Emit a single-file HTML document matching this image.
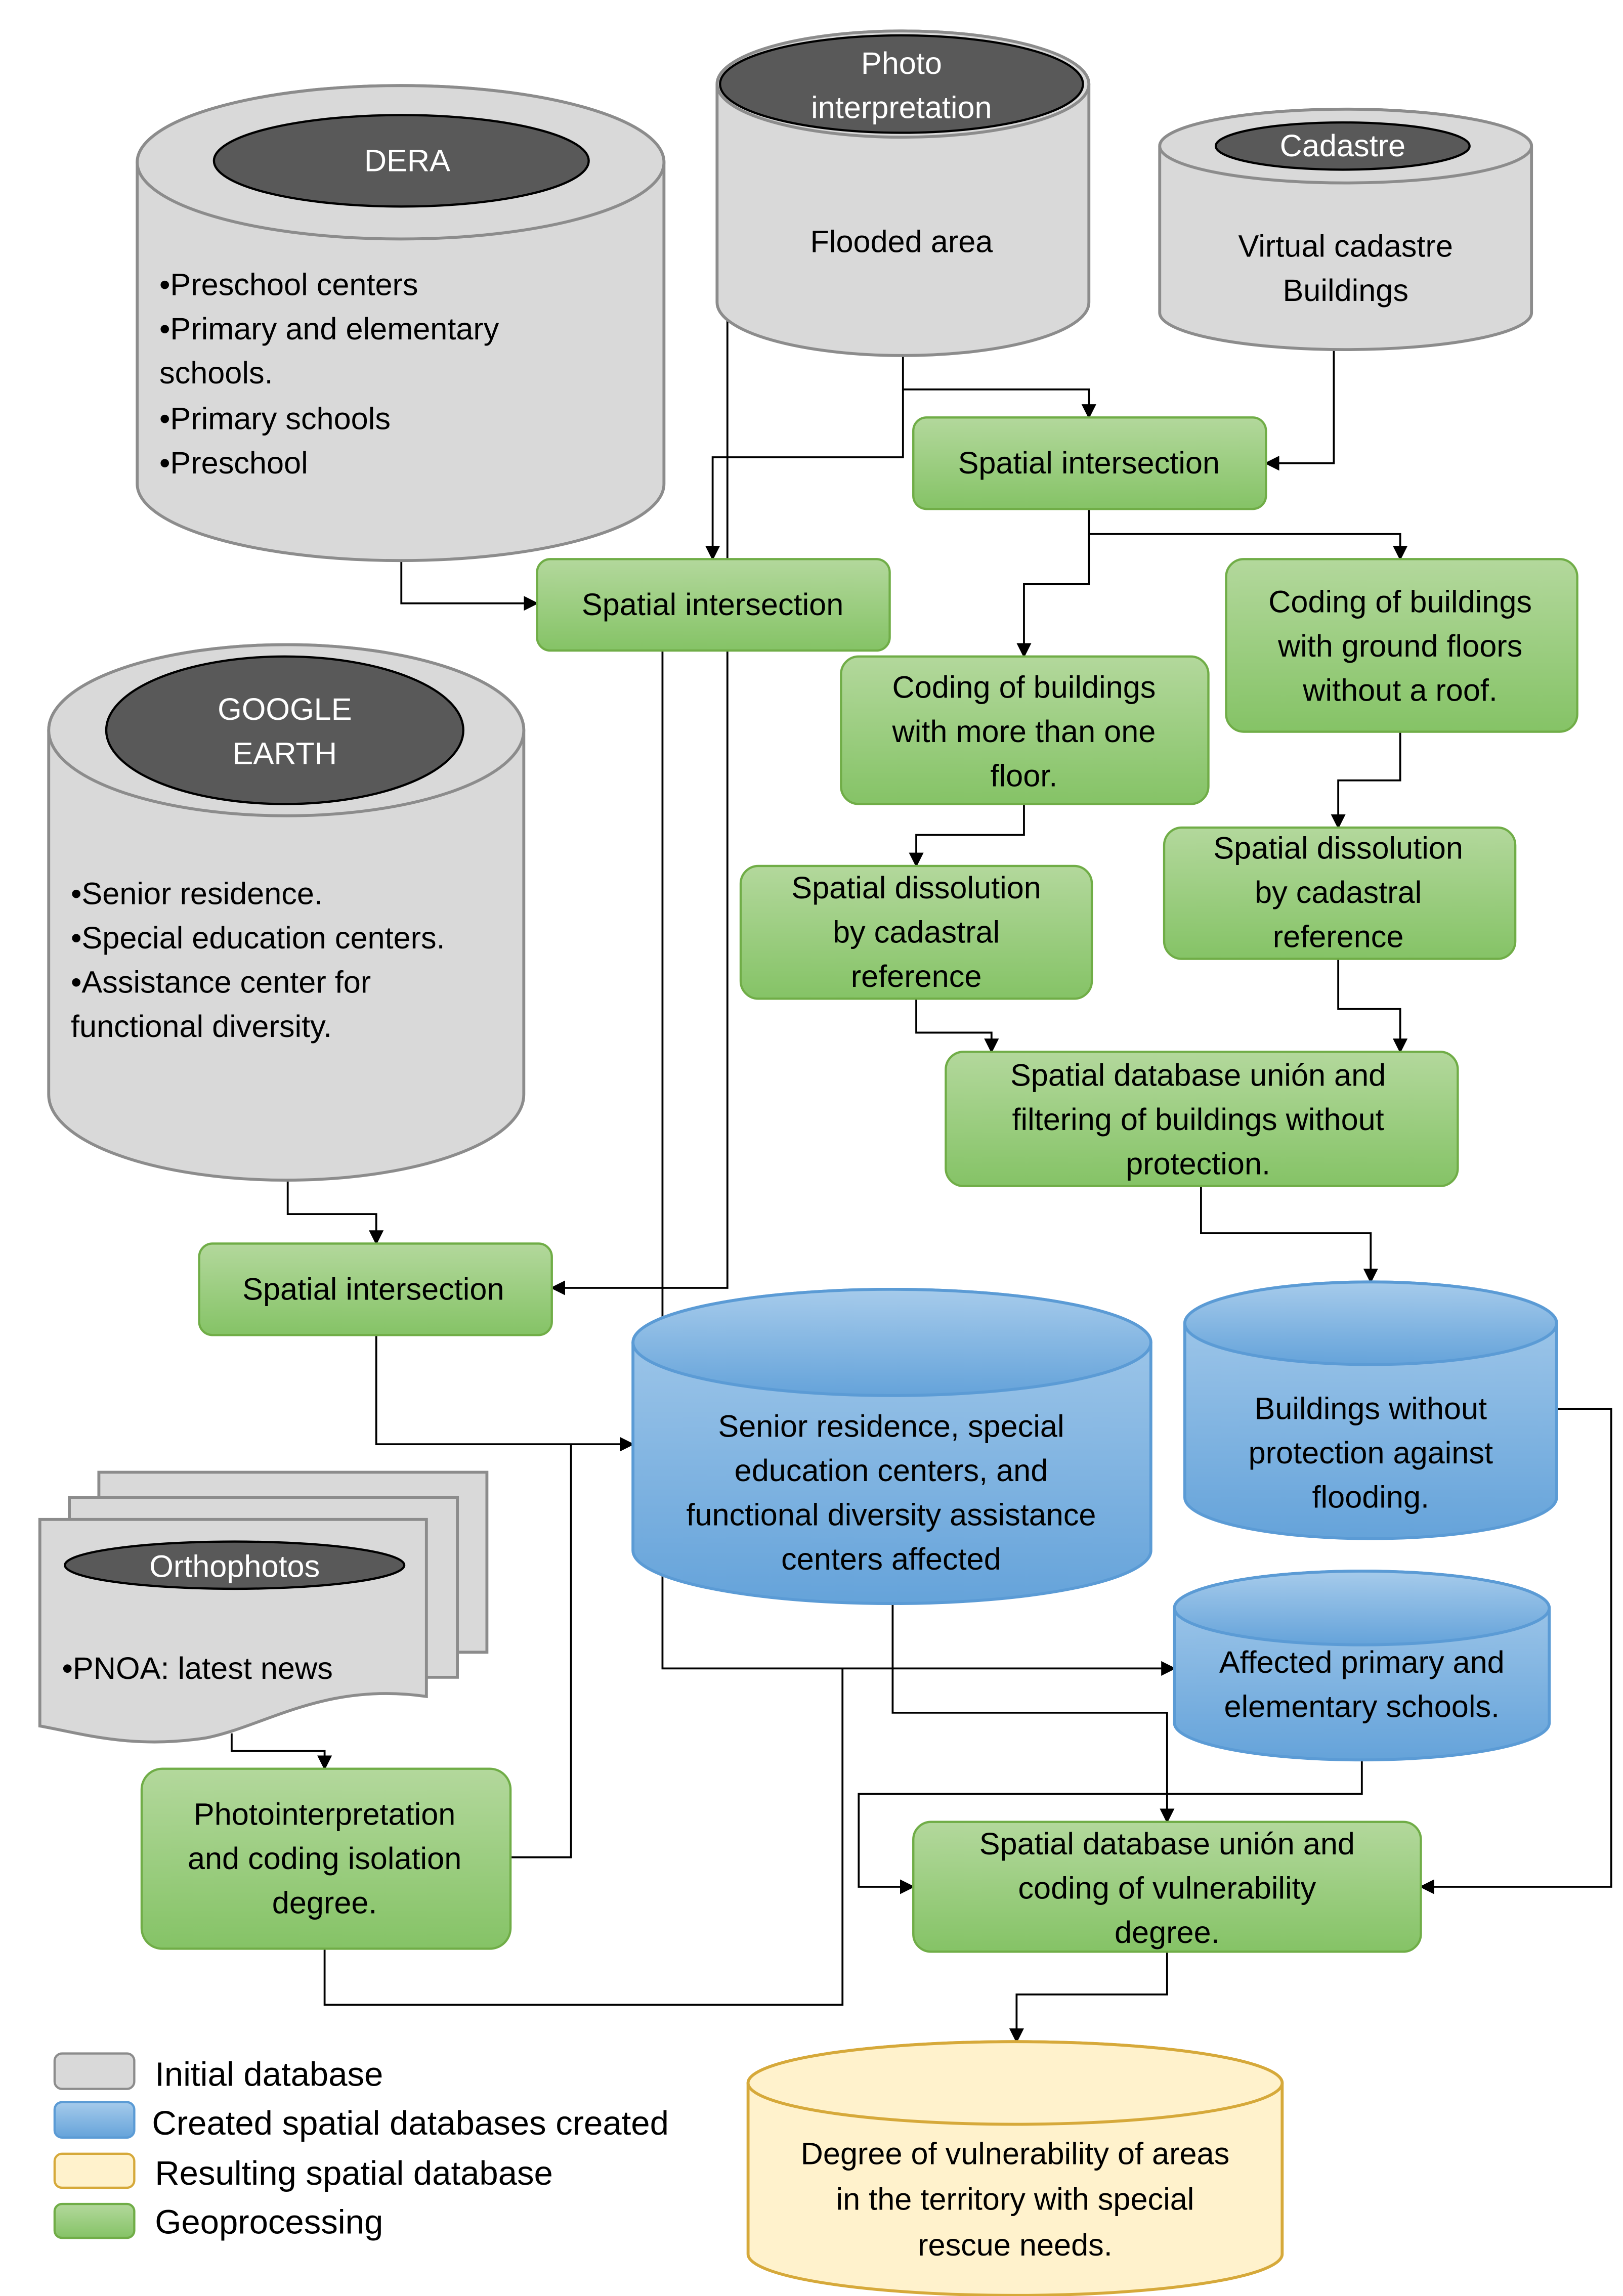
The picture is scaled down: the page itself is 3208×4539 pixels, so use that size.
<!DOCTYPE html>
<html><head><meta charset="utf-8"><style>html,body{margin:0;padding:0;background:#fff}svg{display:block}</style></head><body>
<svg width="3208" height="4539" viewBox="0 0 1100 1556.4" xmlns="http://www.w3.org/2000/svg" font-family="Liberation Sans, sans-serif" font-size="21">
<defs>
<linearGradient id="g" x1="0" y1="0" x2="0" y2="1"><stop offset="0" stop-color="#b3d89c"/><stop offset="1" stop-color="#85c366"/></linearGradient>
<linearGradient id="b" x1="0" y1="0" x2="0" y2="1"><stop offset="0" stop-color="#a6cbeb"/><stop offset="1" stop-color="#65a3da"/></linearGradient>
<marker id="a" markerWidth="10" markerHeight="10" refX="9" refY="5" orient="auto" markerUnits="userSpaceOnUse"><path d="M0,0 L10,5 L0,10 Z" fill="#000"/></marker>
</defs>
<g fill="none" stroke="#000" stroke-width="1.3">
<path d="M612,240 V264 H738 V283" marker-end="url(#a)"/>
<path d="M904,237 V314 H858" marker-end="url(#a)"/>
<path d="M493,215 V873 H374" marker-end="url(#a)"/>
<path d="M612,264 V310 H483 V379" marker-end="url(#a)"/>
<path d="M272,380 V409 H364" marker-end="url(#a)"/>
<path d="M738,345 V362 H949 V379" marker-end="url(#a)"/>
<path d="M738,362 V396 H694 V445" marker-end="url(#a)"/>
<path d="M694,545 V566 H621 V587" marker-end="url(#a)"/>
<path d="M949,496 V529 H907 V561" marker-end="url(#a)"/>
<path d="M621,677 V700 H672 V713" marker-end="url(#a)"/>
<path d="M907,650 V684 H949 V713" marker-end="url(#a)"/>
<path d="M814,804 V836 H929 V869" marker-end="url(#a)"/>
<path d="M195,800 V823 H255 V843" marker-end="url(#a)"/>
<path d="M255,905 V979 H429" marker-end="url(#a)"/>
<path d="M449,441 V1131 H796" marker-end="url(#a)"/>
<path d="M346,1259 H387 V979"/>
<path d="M220,1321 V1359 H571 V1131"/>
<path d="M157,1175 V1187 H220 V1199" marker-end="url(#a)"/>
<path d="M605,1087 V1161 H791 V1235" marker-end="url(#a)"/>
<path d="M923,1193 V1216 H582 V1279 H619" marker-end="url(#a)"/>
<path d="M1055,955 H1092 V1279 H963" marker-end="url(#a)"/>
<path d="M791,1323 V1352 H689 V1384" marker-end="url(#a)"/>
</g>
<!-- gray cylinders -->
<g fill="#d9d9d9" stroke="#8c8c8c" stroke-width="2">
<path d="M93,110 A178.5,52 0 0 1 450,110 V328 A178.5,52 0 0 1 93,328 Z"/><ellipse cx="271.5" cy="110" rx="178.5" ry="52"/>
<path d="M486,57 A126,36 0 0 1 738,57 V205 A126,36 0 0 1 486,205 Z"/><ellipse cx="612" cy="57" rx="126" ry="36"/>
<path d="M786,99 A126,25 0 0 1 1038,99 V212 A126,25 0 0 1 786,212 Z"/><ellipse cx="912" cy="99" rx="126" ry="25"/>
<path d="M33,495 A161,58 0 0 1 355,495 V742 A161,58 0 0 1 33,742 Z"/><ellipse cx="194" cy="495" rx="161" ry="58"/>
<path d="M67,998 H330 V1120 H67 Z"/><path d="M47,1015 H310 V1137 H47 Z"/>
<path d="M27,1030 H289 V1150 C220,1140 180,1170 140,1178 C90,1186 55,1175 27,1170 Z"/>
</g>
<g fill="#595959" stroke="#000" stroke-width="1.5">
<ellipse cx="272" cy="109" rx="127" ry="31"/><ellipse cx="611" cy="57" rx="123" ry="33"/>
<ellipse cx="910" cy="99" rx="86" ry="16"/><ellipse cx="193" cy="495" rx="121" ry="50"/>
<ellipse cx="159" cy="1061" rx="115" ry="16"/>
</g>
<!-- blue cylinders -->
<g fill="url(#b)" stroke="#5b9bd5" stroke-width="2">
<path d="M429,910 A175.5,36 0 0 1 780,910 V1051 A175.5,36 0 0 1 429,1051 Z"/><ellipse cx="604.5" cy="910" rx="175.5" ry="36"/>
<path d="M803,897 A126,28 0 0 1 1055,897 V1015 A126,28 0 0 1 803,1015 Z"/><ellipse cx="929" cy="897" rx="126" ry="28"/>
<path d="M796,1090 A127,25 0 0 1 1050,1090 V1168 A127,25 0 0 1 796,1168 Z"/><ellipse cx="923" cy="1090" rx="127" ry="25"/>
</g>
<g fill="#fff2cc" stroke="#d6a93a" stroke-width="2">
<path d="M507,1412 A181,28 0 0 1 869,1412 V1528 A181,28 0 0 1 507,1528 Z"/><ellipse cx="688" cy="1412" rx="181" ry="28"/>
</g>
<!-- green boxes -->
<g fill="url(#g)" stroke="#70ad47" stroke-width="1.5">
<rect x="619" y="283" width="239" height="62" rx="9"/>
<rect x="364" y="379" width="239" height="62" rx="9"/>
<rect x="570" y="445" width="249" height="100" rx="12"/>
<rect x="831" y="379" width="238" height="117" rx="12"/>
<rect x="502" y="587" width="238" height="90" rx="12"/>
<rect x="789" y="561" width="238" height="89" rx="12"/>
<rect x="641" y="713" width="347" height="91" rx="12"/>
<rect x="135" y="843" width="239" height="62" rx="9"/>
<rect x="96" y="1199" width="250" height="122" rx="14"/>
<rect x="619" y="1235" width="344" height="88" rx="12"/>
</g>
<!-- legend -->
<rect x="37" y="1392" width="54" height="24" rx="5" fill="#d9d9d9" stroke="#8c8c8c" stroke-width="1.5"/>
<rect x="37" y="1425" width="54" height="24" rx="5" fill="url(#b)" stroke="#5b9bd5" stroke-width="1.5"/>
<rect x="37" y="1460" width="54" height="23" rx="5" fill="#fff2cc" stroke="#d6a93a" stroke-width="1.5"/>
<rect x="37" y="1494" width="54" height="23" rx="5" fill="url(#g)" stroke="#70ad47" stroke-width="1.5"/>
<g font-size="23" fill="#000">
<text x="105" y="1414">Initial database</text>
<text x="103" y="1447">Created spatial databases created</text>
<text x="105" y="1481">Resulting spatial database</text>
<text x="105" y="1514">Geoprocessing</text>
</g>
<!-- texts -->
<g fill="#fff" text-anchor="middle">
<text x="276" y="116">DERA</text>
<text x="611" y="50">Photo</text><text x="611" y="80">interpretation</text>
<text x="910" y="106">Cadastre</text>
<text x="193" y="488">GOOGLE</text><text x="193" y="518">EARTH</text>
<text x="159" y="1069">Orthophotos</text>
</g>
<g fill="#000">
<text x="108" y="200">•Preschool centers</text>
<text x="108" y="230">•Primary and elementary</text>
<text x="108" y="260">schools.</text>
<text x="108" y="291">•Primary schools</text>
<text x="108" y="321">•Preschool</text>
<text x="48" y="613">•Senior residence.</text>
<text x="48" y="643">•Special education centers.</text>
<text x="48" y="673">•Assistance center for</text>
<text x="48" y="703">functional diversity.</text>
<text x="42" y="1138">•PNOA: latest news</text>
</g>
<g fill="#000" text-anchor="middle">
<text x="611" y="171">Flooded area</text>
<text x="912" y="174">Virtual cadastre</text><text x="912" y="204">Buildings</text>
<text x="738" y="321">Spatial intersection</text>
<text x="483" y="417">Spatial intersection</text>
<text x="694" y="473">Coding of buildings</text><text x="694" y="503">with more than one</text><text x="694" y="533">floor.</text>
<text x="949" y="415">Coding of buildings</text><text x="949" y="445">with ground floors</text><text x="949" y="475">without a roof.</text>
<text x="621" y="609">Spatial dissolution</text><text x="621" y="639">by cadastral</text><text x="621" y="669">reference</text>
<text x="907" y="582">Spatial dissolution</text><text x="907" y="612">by cadastral</text><text x="907" y="642">reference</text>
<text x="812" y="736">Spatial database unión and</text><text x="812" y="766">filtering of buildings without</text><text x="812" y="796">protection.</text>
<text x="253" y="881">Spatial intersection</text>
<text x="604" y="974">Senior residence, special</text><text x="604" y="1004">education centers, and</text><text x="604" y="1034">functional diversity assistance</text><text x="604" y="1064">centers affected</text>
<text x="929" y="962">Buildings without</text><text x="929" y="992">protection against</text><text x="929" y="1022">flooding.</text>
<text x="923" y="1134">Affected primary and</text><text x="923" y="1164">elementary schools.</text>
<text x="220" y="1237">Photointerpretation</text><text x="220" y="1267">and coding isolation</text><text x="220" y="1297">degree.</text>
<text x="791" y="1257">Spatial database unión and</text><text x="791" y="1287">coding of vulnerability</text><text x="791" y="1317">degree.</text>
<text x="688" y="1467">Degree of vulnerability of areas</text><text x="688" y="1498">in the territory with special</text><text x="688" y="1529">rescue needs.</text>
</g>
</svg>
</body></html>
